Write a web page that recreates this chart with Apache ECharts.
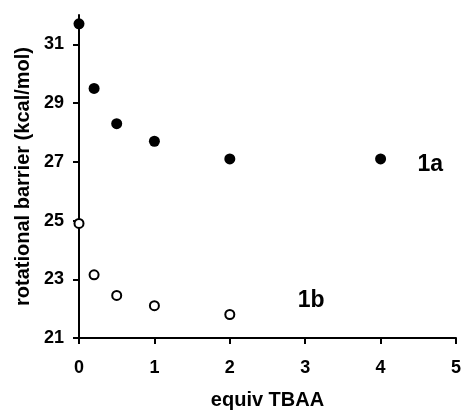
<!DOCTYPE html>
<html>
<head>
<meta charset="utf-8">
<script src="https://cdn.jsdelivr.net/npm/echarts@6/dist/echarts.min.js"></script>
<style>html,body{margin:0;padding:0;background:#fff;}#c{width:463px;height:410px;}</style>
</head>
<body>
<div id="c"></div>
<script>
const xValues = [0, 0.2, 0.5, 1, 2, 4];
const seriesA = [31.7, 29.5, 28.3, 27.7, 27.1, 27.1];
const xValuesB = [0, 0.2, 0.5, 1, 2];
const seriesB = [24.9, 23.15, 22.45, 22.1, 21.8];
const yTicks = [21, 23, 25, 27, 29, 31];
const xTicks = [0, 1, 2, 3, 4, 5];
const labelA = { text: '1a', coord: [4.66, 26.9] };
const labelB = { text: '1b', coord: [3.08, 22.28] };

const font = 'Liberation Sans, Arial, sans-serif';
const chart = echarts.init(document.getElementById('c'));
chart.setOption({
  animation: false,
  grid: { left: 79, right: 7, top: 15, bottom: 72, outerBoundsMode: 'none', containLabel: false },
  xAxis: {
    type: 'value', min: 0, max: 5, interval: 1,
    name: 'equiv TBAA', nameLocation: 'middle', nameGap: 52,
    nameTextStyle: { fontFamily: font, fontWeight: 'bold', fontSize: 20, color: '#000' },
    axisLine: { show: true, onZero: false, lineStyle: { color: '#000', width: 2 } },
    axisTick: { show: true, inside: false, length: 6, lineStyle: { color: '#000', width: 2 }, customValues: xTicks },
    axisLabel: { fontFamily: font, fontWeight: 'bold', fontSize: 18, color: '#000', margin: 21, customValues: xTicks },
    splitLine: { show: false }
  },
  yAxis: {
    type: 'value', min: 21, max: 32, interval: 2,
    name: 'rotational barrier (kcal/mol)', nameLocation: 'middle', nameGap: 44,
    nameTextStyle: { fontFamily: font, fontWeight: 'bold', fontSize: 20, color: '#000' },
    axisLine: { show: true, onZero: false, lineStyle: { color: '#000', width: 2 } },
    axisTick: { show: true, inside: false, length: 6, lineStyle: { color: '#000', width: 2 }, customValues: yTicks },
    axisLabel: { fontFamily: font, fontWeight: 'bold', fontSize: 18, color: '#000', margin: 15, customValues: yTicks },
    splitLine: { show: false }
  },
  series: [
    {
      type: 'scatter', name: '1a', clip: false,
      data: xValues.map((x, i) => [x, seriesA[i]]),
      symbol: 'circle', symbolSize: 11,
      itemStyle: { color: '#000', opacity: 1 },
      markPoint: {
        symbol: 'circle', symbolSize: 0,
        label: { show: true, position: 'inside', formatter: '{b}', fontFamily: font, fontWeight: 'bold', fontSize: 23, color: '#000' },
        data: [{ name: labelA.text, coord: labelA.coord }]
      }
    },
    {
      type: 'scatter', name: '1b', clip: false,
      data: xValuesB.map((x, i) => [x, seriesB[i]]),
      symbol: 'circle', symbolSize: 9,
      itemStyle: { color: '#fff', borderColor: '#000', borderWidth: 2, opacity: 1 },
      markPoint: {
        symbol: 'circle', symbolSize: 0,
        label: { show: true, position: 'inside', formatter: '{b}', fontFamily: font, fontWeight: 'bold', fontSize: 23, color: '#000' },
        data: [{ name: labelB.text, coord: labelB.coord }]
      }
    }
  ]
});
</script>
</body>
</html>
